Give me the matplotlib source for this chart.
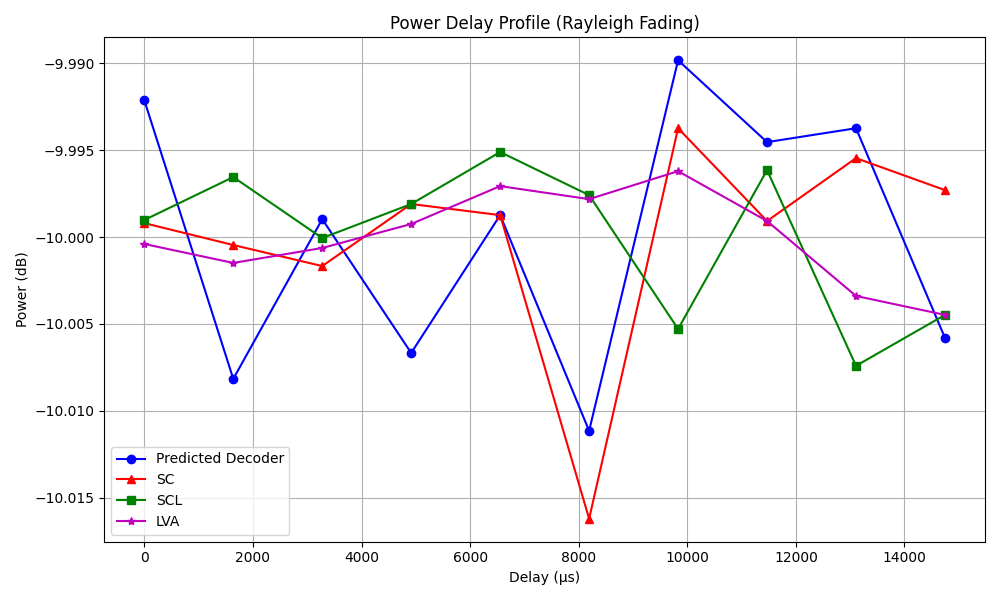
import matplotlib.pyplot as plt
import numpy as np

delay_us = [i * 1638.4 for i in range(10)]
predicted = [-9.99213, -10.00816, -9.99897, -10.00667, -9.99874, -10.01115, -9.98983, -9.99454, -9.99374, -10.00580]
sc = [-9.99920, -10.00046, -10.00167, -9.99810, -9.99874, -10.01621, -9.99374, -9.99908, -9.99546, -9.99730]
scl = [-9.99902, -9.99655, -10.00006, -9.99810, -9.99511, -9.99759, -10.00529, -9.99615, -10.00741, -10.00448]
lva = [-10.00040, -10.00149, -10.00063, -9.99925, -9.99707, -9.99782, -9.99621, -9.99908, -10.00339, -10.00448]

fig, ax = plt.subplots(figsize=(10, 6))
ax.plot(delay_us, predicted, "b-o", label="Predicted Decoder")
ax.plot(delay_us, sc, "r-^", label="SC")
ax.plot(delay_us, scl, "g-s", label="SCL")
ax.plot(delay_us, lva, "m-*", label="LVA")

ax.set_title("Power Delay Profile (Rayleigh Fading)")
ax.set_xlabel("Delay (µs)")
ax.set_ylabel("Power (dB)")
ax.grid(True)
ax.legend(loc="lower left")

fig.tight_layout()
fig.savefig("out.png", dpi=100)
